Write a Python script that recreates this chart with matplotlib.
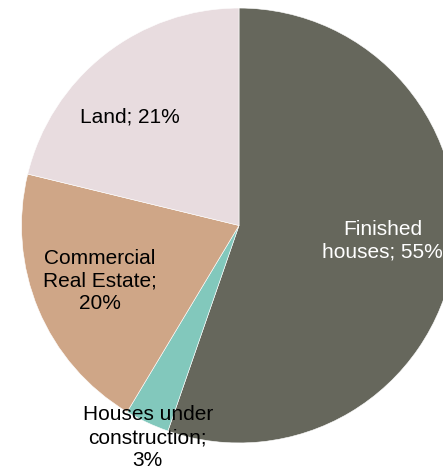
import matplotlib.pyplot as plt

plt.rcParams['font.family'] = ['Liberation Sans', 'DejaVu Sans']

# slice data (clockwise from 12 o'clock)
labels = ['Finished\nhouses; 55%', 'Houses under\nconstruction;\n3%',
          'Commercial\nReal Estate;\n20%', 'Land; 21%']
shares = [55.3, 3.3, 20.2, 21.2]
colors = ['#66675C', '#82C8BC', '#CFA687', '#E8DCDF']
text_colors = ['white', 'black', 'black', 'black']
# label anchor points in pie units (radius = 1)
label_pos = [(0.66, -0.07), (-0.42, -0.975), (-0.64, -0.255), (-0.50, 0.50)]

fig = plt.figure(figsize=(4.43, 4.76), dpi=100)
ax = fig.add_axes([0, 0, 1, 1])

wedges, _ = ax.pie(shares, colors=colors, startangle=90, counterclock=False,
                   radius=1.0, center=(0, 0),
                   wedgeprops=dict(edgecolor='white', linewidth=0.4))

for lab, (x, y), c in zip(labels, label_pos, text_colors):
    ax.text(x, y, lab, ha='center', va='center', fontsize=15,
            color=c, linespacing=1.25)

ax.set_xlim(-1.099, 0.938)
ax.set_ylim(-1.152, 1.037)
ax.set_aspect('auto')
ax.axis('off')

fig.savefig('out.png', dpi=100)
